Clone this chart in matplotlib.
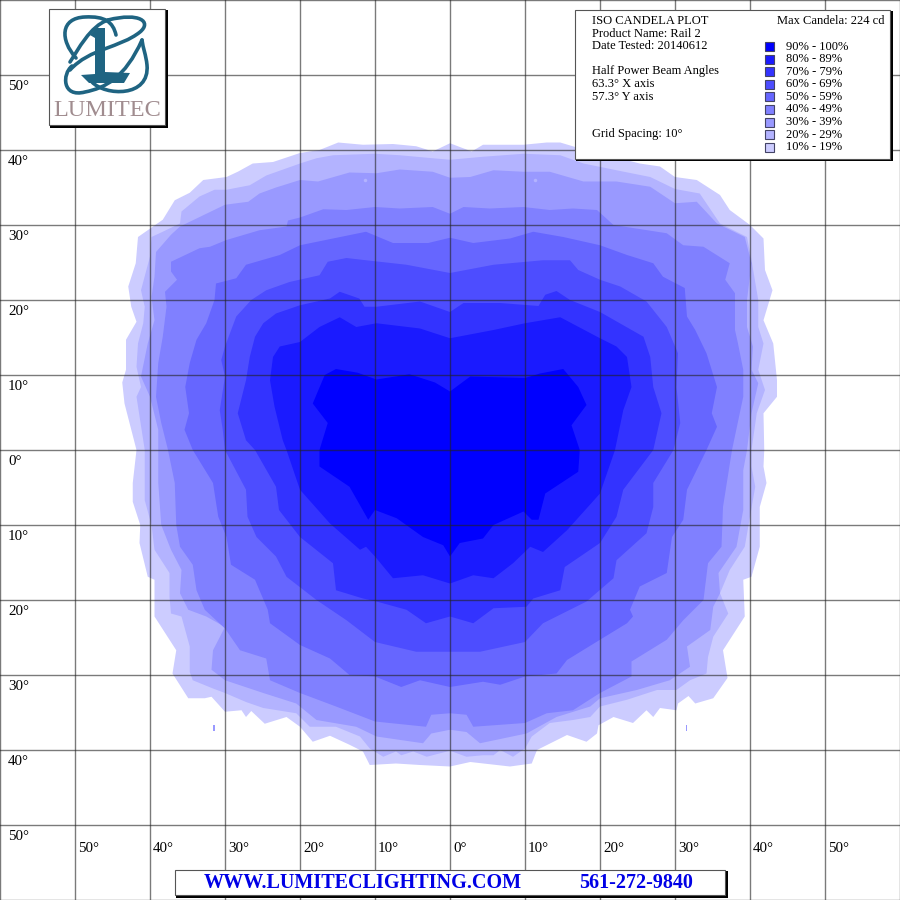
import matplotlib
matplotlib.use("Agg")
import matplotlib.pyplot as plt
from matplotlib.patches import Rectangle, PathPatch
from matplotlib.path import Path

plt.rcParams['font.family'] = ['Liberation Serif', 'DejaVu Serif']

LEVEL_10 = [(0,40.9),(-2.3,39.8),(-4.5,40.5),(-7.6,40.8),(-11.6,40.7),(-14.9,41),(-17.4,40),(-20,39.6),(-23.6,38.4),(-26.3,38.2),(-28.3,37.1),(-29.8,36.4),(-32.9,36),(-34.7,34.3),(-36.7,33.3),(-38.3,30.7),(-41.6,28.4),(-41.9,24.9),(-42.9,21.8),(-42.5,19.1),(-41.8,17.1),(-43.2,14.7),(-43.2,10.7),(-43.7,9),(-43.4,6.2),(-41.8,0),
            (-42.3,-4.4),(-42.3,-6.9),(-41.3,-10),(-41.4,-12.4),(-40.3,-16.9),(-39.4,-17.3),(-39.4,-22.2),(-36.5,-26.7),(-37,-29.8),(-34.9,-33.1),(-32.7,-33.1),(-31.8,-32.9),(-30,-34.9),(-27.8,-34.7),(-27.2,-35.6),(-26.5,-34.8),(-24.7,-36.5),(-21.8,-35.6),(-20,-36.9),(-18.3,-38.9),(-16,-38.1),(-13.4,-39.3),(-11.6,-40.2),(-10.7,-42),(-7.2,-41.8),(-4,-42),(0,-42.2),
            (2.7,-41.6),(8,-42.2),(10.9,-41.8),(11.6,-40),(15.6,-38),(18.2,-38.9),(19.6,-37.8),(19.8,-36.7),(21.8,-35.6),(24.4,-36.4),(26.2,-34.7),(27.1,-35.6),(28,-34.4),(30.2,-34.7),(30.4,-33.8),(31.8,-32.8),(32.7,-33.8),(35.1,-33.1),(37,-30.4),(36.4,-26.7),(39.3,-22.2),(39.1,-17.3),(40.2,-16.9),(41.3,-12.9),(41.3,-7.6),(42.2,-4.4),(41.8,-2.2),(41.9,0),
            (41.8,4.9),(43.6,7.1),(43.6,9.3),(43.1,14.2),(41.8,17.3),(43,21.3),(42,24),(41.8,28.2),(40,30),(37.3,32),(36,34),(32.9,36),(30,36.4),(28,37.8),(25.3,38.2),(16.7,40.4),(14.7,41),(12.9,41),(9.8,40.7),(4.4,40.7),(2.9,39.8)]
LEVEL_20 = [(0,38.7),(-2.3,38.9),(-6.7,39.3),(-10,39.5),(-15.6,39.3),(-17.8,38.9),(-20,38.2),(-24.5,36.6),(-26.7,35.3),(-29.8,34.7),(-31.4,34.7),(-33.4,33.8),(-35.8,31.8),(-36,30.2),(-38.3,29.1),(-39.8,28.4),(-40,25.8),(-41.2,21.3),(-40.7,19.1),(-40.9,16.9),(-41.6,14.2),(-41.8,11.1),(-41.2,8.4),(-41.8,7.1),(-40.7,0),
            (-40.7,-6.7),(-39.8,-10),(-39.4,-13.3),(-37.4,-16.4),(-37.4,-19.6),(-37.2,-21.8),(-35.8,-22.2),(-34.7,-26.2),(-34.7,-29.6),(-34.3,-30.7),(-31.6,-31.8),(-30,-32.4),(-27.2,-33.6),(-24.9,-34.4),(-20.5,-35.1),(-18.7,-36.9),(-15.2,-36.9),(-12,-38.2),(-10.7,-39.8),(-8.9,-40.9),(-7.2,-40.2),(-6.5,-40.7),(-4.9,-40.2),(-3.1,-40.9),(0,-40.1),
            (2.2,-40.9),(4.4,-40.7),(5.8,-40.7),(6.7,-40),(8.4,-40.9),(10,-39.8),(10.9,-38.2),(13.3,-36.4),(16.4,-36),(18.7,-35.6),(20,-34.2),(23.6,-33.3),(27.6,-32),(30.2,-32),(32,-30.7),(34.2,-29.8),(34.4,-27.6),(35.1,-24.9),(37.1,-21.8),(36,-19.1),(37.3,-16),(39.3,-12.9),(40,-8.9),(40.7,-4.9),(40.2,-2.2),(40.2,0),
            (40.9,4.9),(42,8),(41.1,10.7),(41.8,14.2),(41.1,16.4),(41.1,20),(40.2,25.3),(39.6,28.4),(36,30.2),(33.3,34.2),(30,34.8),(26.7,36.4),(22.2,37.3),(17.8,38.2),(14.7,39.3),(9.8,39.5),(4.4,39.1)]
LEVEL_30 = [(0,36.3),(-2.3,37.1),(-6.7,37.4),(-9.8,36.9),(-13.4,37),(-17.6,35.8),(-20,36),(-23.2,35),(-25.4,34.2),(-26.9,33.1),(-30,32.7),(-32.9,31.3),(-36,29.8),(-37.2,28.7),(-39.2,26.4),(-39.4,23.1),(-39.8,20.4),(-39.4,17.3),(-40.3,14.2),(-41.2,9.8),(-40,7.1),(-38.9,2.7),(-38.9,0),
            (-38.9,-4.4),(-38.5,-10),(-37.2,-13.3),(-35.8,-16),(-36,-19.1),(-34.9,-21.3),(-32.5,-22.2),(-30,-23.6),(-31.6,-26.7),(-31.8,-29.3),(-30,-30.7),(-24.9,-32.4),(-20.5,-33.8),(-17.8,-36),(-12.5,-36.9),(-9.8,-38.2),(-3.6,-39.1),(-2.5,-37.8),(0,-37.3),
            (2.2,-37.6),(4,-39.1),(10.2,-37.8),(14.2,-35.6),(18.7,-34.2),(20,-33.1),(24.9,-32),(29.3,-30.7),(32,-28.9),(31.6,-26.2),(34.7,-24),(35.1,-20.9),(36,-19.1),(35.8,-16.4),(38.2,-12.9),(39.1,-8),(39.1,-2.7),(39.6,0),
            (40.2,4.9),(41.1,8.9),(40.2,10.7),(40.4,13.8),(39.6,16.4),(39.6,20),(40.2,24.9),(39.3,28.4),(35.6,30.2),(32.9,33.1),(30,32.9),(26.7,35.1),(22.2,35.8),(17.8,35.8),(13.3,37.1),(9.8,37.1),(5.8,37.3),(2.7,36.4)]
LEVEL_40 = [(0,31.5),(-2.3,32.4),(-6.7,32.2),(-10,32.4),(-13.8,32),(-16.9,32.1),(-20,31),(-21.6,30.6),(-21.8,29.8),(-25.4,29.3),(-29.8,28),(-32,27.1),(-33.4,26.9),(-37.2,25.1),(-37.2,23.8),(-36.4,22.7),(-38,21.1),(-37.8,19.1),(-38.3,15.1),(-38.9,11.6),(-39.2,7.1),(-38.5,3.6),(-37.6,0),
            (-36.7,-4.4),(-36.5,-10),(-36,-12.9),(-34.3,-15.3),(-33.8,-18.7),(-32.7,-21.3),(-30,-23.8),(-28,-26.7),(-24.5,-27.8),(-24,-30.7),(-20,-32.4),(-15.2,-34.2),(-10,-36.2),(-3.2,-36.9),(-2.5,-35.3),(0,-35.1),
            (2.2,-35.3),(3.1,-36.9),(10,-36.4),(12.9,-35.1),(16.4,-34.7),(20,-32.4),(24.2,-30.2),(24.2,-28.2),(28.9,-25.3),(31.1,-22.7),(33.8,-20),(34.4,-15.1),(36.2,-12.9),(36.4,-7.6),(37.6,0),
            (39.1,7.1),(39.1,10.7),(38.4,14.2),(38,16),(38,20.9),(36.7,22.7),(37.3,24.9),(33.8,27.1),(31.1,27.3),(28.9,28.9),(21.8,30),(19.6,32),(16.4,32.2),(13.3,32),(9.8,32.4),(5.3,32.2),(1.8,32.4)]
LEVEL_50 = [(0,28.3),(-2.9,27.6),(-7.6,27.6),(-11.2,29.1),(-15.6,28.2),(-20,27.3),(-22.7,26),(-27.2,24.7),(-28.5,22.9),(-31.2,22.2),(-31.4,20),(-32.5,16.9),(-33.8,14.7),(-34.7,11.6),(-35.3,8.4),(-34.8,4.9),(-35.4,2.7),(-34.3,0),
            (-31.6,-4.4),(-30.9,-8.9),(-29.8,-11.6),(-29.2,-15.3),(-26,-17.3),(-24.3,-21.3),(-24,-23.1),(-20,-26),(-16,-27.8),(-13.4,-30),(-10,-30.2),(-6.5,-31.6),(-4,-30.7),(0,-31.6),
            (4.4,-30.9),(6.7,-31.3),(10,-30.2),(14.2,-29.8),(15.6,-28),(20,-25.3),(23.6,-23.1),(24.4,-22.2),(24,-21.3),(25.3,-18.2),(28.9,-16.4),(29.6,-11.6),(31.1,-9.3),(31.6,-5.3),(34.2,0),
            (35.6,3.1),(34.9,4.9),(35.6,8.4),(34.2,12.9),(32.7,16),(31.6,17.8),(31.3,21.6),(28.4,23.1),(27.1,24.9),(23.6,26),(20,27.3),(15.1,28.4),(11.1,29.1),(8,28.2),(3.1,27.6)]
LEVEL_60 = [(0,23.6),(-5.8,24.7),(-11.2,25.3),(-13.8,25.6),(-16.3,25.1),(-17.4,23.3),(-21.4,22.4),(-24.5,21.3),(-26.5,20),(-28.5,17.8),(-30,13.8),(-30.5,12),(-30,9.8),(-30.7,5.3),(-30.3,2.7),(-30,0),
            (-27.2,-5.3),(-27,-8.9),(-25.8,-11.6),(-23.2,-14.2),(-21.8,-16.9),(-17.8,-20),(-13.8,-22.7),(-10,-25.6),(-4.5,-26.9),(0,-26.9),
            (4,-26.9),(10,-25.6),(12.4,-23.1),(18.2,-20.2),(21.8,-17.1),(22.2,-14.7),(26.2,-11.1),(27.1,-7.6),(27.1,-4.4),(29.8,0),
            (30.7,3.6),(30.2,8.4),(30.4,12.9),(28.9,16.4),(26.2,19.8),(22.7,21.8),(20,22.7),(17.1,24),(16,25.3),(12.4,25.3),(5.8,24.7)]
LEVEL_70 = [(0,18.4),(-4,19.8),(-9.8,19.1),(-11.4,19.1),(-12.1,20.2),(-14.7,21.1),(-16,20.2),(-20,19.3),(-23.2,18.2),(-24.9,16.9),(-26,15.1),(-26.7,12.4),(-27.2,9.3),(-28.3,4.9),(-27.2,1.3),(-26,0),
            (-23.2,-4.9),(-22.8,-8),(-20,-11.6),(-15.6,-15.1),(-15.2,-18.7),(-11.6,-19.8),(-9.8,-20.2),(-5.8,-21.3),(-3.2,-23.1),(0,-22.2),
            (3.1,-23.1),(5.8,-21.1),(10.2,-20.9),(11.1,-19.8),(14.7,-18.7),(15.3,-15.6),(20,-12.4),(22.2,-8.9),(23.1,-5.3),(27.1,0),
            (28.2,4.9),(27.1,8.4),(26.7,12.4),(25.8,15.1),(20,18.4),(16,20),(14.2,21.2),(12.7,20.7),(11.8,19.2),(6.7,19.6),(1.8,19.6)]
LEVEL_80 = [(0,14.9),(-4,16.2),(-9.8,16.9),(-12.5,16.4),(-14.7,17.7),(-17.4,16.4),(-20,14.4),(-22.7,13.8),(-23.6,12.4),(-24,9.3),(-23.4,5.8),(-22.3,1.3),(-21.8,0),
            (-20,-5.3),(-16,-9.8),(-12,-13.3),(-11.2,-12.9),(-10,-14.2),(-7.6,-17.1),(-3.6,-16.7),(0,-17.8),
            (3.1,-16.7),(5.8,-17.1),(8.4,-15.1),(10.7,-12.9),(12.4,-13.6),(15.6,-10.7),(20,-5.8),(22,0),
            (23.1,5.3),(24.2,8.4),(23.6,12.4),(22.2,13.8),(20,14.9),(14.7,17.7),(10,16.9),(5.8,16)]
LEVEL_90 = [(0,7.8),(-2,9),(-5.4,10.1),(-9.8,9.4),(-12.3,10.3),(-15.2,10.8),(-16.7,10),(-18.3,6.2),(-16.3,3.6),(-17.4,0),
            (-17.4,-2.2),(-13.4,-4.9),(-10.9,-9.3),(-10,-8),(-7.1,-9.1),(-3.6,-11.6),(-0.9,-12.7),(0,-14.2),
            (1.3,-12.4),(4.4,-11.8),(5.8,-10),(9.8,-8.2),(10.9,-9.3),(11.8,-9.3),(12.7,-5.8),(17.1,-2.9),(17.3,0),
            (16.2,3.3),(18.2,6),(17.1,8.4),(15.1,10.8),(12,10.2),(10,9.6),(2.7,9.8)]
SPECK_LEFT = [(-31.6,-36.7),(-31.4,-36.7),(-31.4,-37.4),(-31.6,-37.4)]
SPECK_RIGHT = [(31.4,-36.7),(31.6,-36.7),(31.6,-37.4),(31.4,-37.4)]

CONTOURS = [LEVEL_10, LEVEL_20, LEVEL_30, LEVEL_40, LEVEL_50, LEVEL_60, LEVEL_70, LEVEL_80, LEVEL_90]
COLORS = ['#ccccff', '#b3b3ff', '#9999ff', '#8080ff', '#6666ff', '#4d4dff', '#3333ff', '#1a1aff', '#0000ff']
LEGEND_LABELS = ['10% - 19%', '20% - 29%', '30% - 39%', '40% - 49%', '50% - 59%',
                 '60% - 69%', '70% - 79%', '80% - 89%', '90% - 100%']
GRID = [-60, -50, -40, -30, -20, -10, 0, 10, 20, 30, 40, 50, 60]
AXIS_LABELS_Y = [50, 40, 30, 20, 10, 0, 10, 20, 30, 40, 50]
AXIS_VALUES_Y = [50, 40, 30, 20, 10, 0, -10, -20, -30, -40, -50]
AXIS_LABELS_X = [50, 40, 30, 20, 10, 0, 10, 20, 30, 40, 50]
AXIS_VALUES_X = [-50, -40, -30, -20, -10, 0, 10, 20, 30, 40, 50]
INFO_LINES = ['ISO CANDELA PLOT', 'Product Name: Rail 2', 'Date Tested: 20140612', '',
              'Half Power Beam Angles', '63.3° X axis', '57.3° Y axis', '', '', 'Grid Spacing: 10°']

fig = plt.figure(figsize=(9, 9), dpi=100, facecolor='white')
ax = fig.add_axes([0, 0, 1, 1])
ax.set_xlim(-60, 60)
ax.set_ylim(-60, 60)
ax.axis('off')

for pts, col in zip(CONTOURS, COLORS):
    xs, ys = zip(*pts)
    ax.fill(xs, ys, color=col, lw=0, zorder=2)
for pts in (SPECK_LEFT, SPECK_RIGHT):
    xs, ys = zip(*pts)
    ax.fill(xs, ys, color='#9999ff', lw=0, zorder=2)
ax.plot([-11.4], [36], 'o', ms=2.5, color='#b3b3ff', mew=0, zorder=3)
ax.plot([11.3], [36], 'o', ms=2.5, color='#b3b3ff', mew=0, zorder=3)

for g in GRID:
    ax.axvline(g, color='#222222', lw=1, alpha=0.6, zorder=4)
    ax.axhline(g, color='#222222', lw=1, alpha=0.6, zorder=4)

for val, lab in zip(AXIS_VALUES_Y, AXIS_LABELS_Y):
    ax.annotate(f'{lab}°', (-60, val), xytext=(8, -8 * 100 / 72), textcoords='offset pixels',
                fontsize=10.8, va='center', ha='left', color='black', zorder=5)
for val, lab in zip(AXIS_VALUES_X, AXIS_LABELS_X):
    ax.annotate(f'{lab}°', (val, -50), xytext=(3, -23), textcoords='offset pixels',
                fontsize=10.8, va='center', ha='left', color='black', zorder=5)

# overlay in pixel coordinates for the panels
ov = fig.add_axes([0, 0, 1, 1], zorder=10)
ov.set_xlim(0, 900)
ov.set_ylim(900, 0)
ov.axis('off')
ov.patch.set_alpha(0)


def panel(x0, y0, x1, y1, shadow=2.5):
    ov.add_patch(Rectangle((x0 + 1, y0 + 1), x1 - x0 + shadow - 1, y1 - y0 + shadow - 1, fc='black', ec='none'))
    ov.add_patch(Rectangle((x0, y0), x1 - x0, y1 - y0, fc='white', ec='#555555', lw=0.8))


# legend panel
panel(575, 9.5, 890, 158.5)
y = 21
for line in INFO_LINES:
    if line:
        ov.text(592, y, line, fontsize=9, va='center', ha='left')
    y += 12.6
ov.text(777, 21, 'Max Candela: 224 cd', fontsize=9, va='center', ha='left')
y = 46.5
for lab, col in zip(LEGEND_LABELS[::-1], COLORS[::-1]):
    ov.add_patch(Rectangle((764.5, y - 4.5), 9, 9, fc=col, ec='#444466', lw=0.8))
    ov.text(786, y, lab, fontsize=9, va='center', ha='left')
    y += 12.6

# footer panel
panel(175, 870, 725, 895)
ov.text(204, 883, 'WWW.LUMITECLIGHTING.COM', fontsize=14.5, fontweight='bold', color='#0000e6', va='center', ha='left')
ov.text(579, 883, '561-272-9840', fontsize=14.5, fontweight='bold', color='#0000e6', va='center', ha='left')

# logo panel
panel(49, 9, 165, 125)
TEAL = '#1f6482'
M, C3, C4, L, Z = Path.MOVETO, Path.CURVE3, Path.CURVE4, Path.LINETO, Path.CLOSEPOLY
strokes = [
    [(M, (76, 58)), (C4, (60, 40)), (C4, (60, 18)), (C4, (85, 17)), (C4, (105, 16)), (C4, (113, 22)), (C4, (116, 35))],
    [(M, (70, 70)), (C4, (90, 48)), (C4, (120, 48)), (C4, (140, 32)), (C4, (152, 22)), (C4, (140, 12)), (C4, (108, 20))],
    [(M, (108, 20)), (C4, (90, 26)), (C4, (78, 50)), (C4, (70, 62))],
    [(M, (72, 66)), (C4, (62, 74)), (C4, (62, 98)), (C4, (85, 92)), (C4, (105, 88)), (C4, (125, 78)), (C4, (142, 40))],
    [(M, (92, 82)), (C4, (105, 96)), (C4, (150, 98)), (C4, (147, 65)), (C4, (146, 55)), (C4, (143, 48)), (C4, (142, 40))],
]
for s in strokes:
    ov.add_patch(PathPatch(Path([p for _, p in s], [c for c, _ in s]), fc='none', ec=TEAL, lw=2.6, capstyle='round'))
l_shape = [(90, 35), (96, 28), (105, 28), (105, 72), (130, 73), (124, 83), (89, 83), (81, 75), (95, 74), (95, 38), (90, 35)]
ov.add_patch(PathPatch(Path(l_shape), fc=TEAL, ec='none'))
ov.text(107.5, 111, 'LUMITEC', fontsize=17.5, color='#a08c8f', va='center', ha='center')

fig.savefig('out.png', dpi=100)
